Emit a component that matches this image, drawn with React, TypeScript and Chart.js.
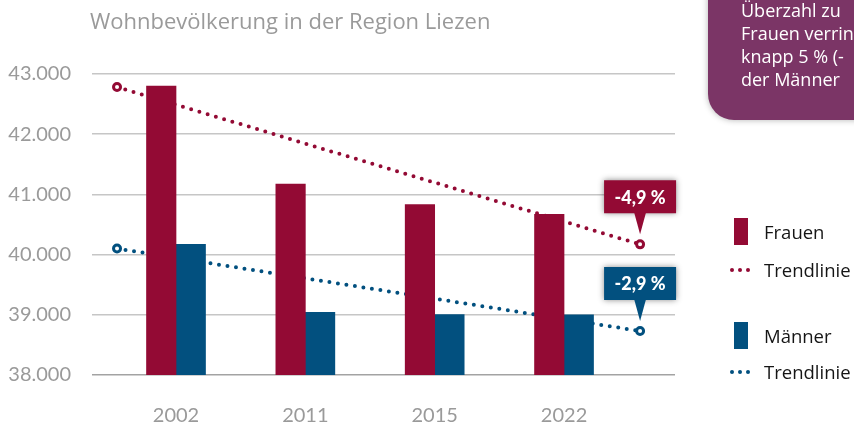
import React, { useEffect, useRef } from "react";
import { Chart, registerables } from "chart.js";

Chart.register(...registerables);

const categories = ["2002", "2011", "2015", "2022"];
const frauen = [42800, 41170, 40830, 40670];
const maenner = [40170, 39040, 39005, 39000];
// trend lines: start/end positions in category-index units, and values
const trendSpan = [-0.456, 3.588];
const trendFrauen = [42785, 40170];
const trendMaenner = [40100, 38730];
const changeLabels = ["-4,9 %", "-2,9 %"];
const infoLines = ["Überzahl zu", "Frauen verrin", "knapp 5 % (-", "der Männer"];
const legendItems = ["Frauen", "Trendlinie", "Männer", "Trendlinie"];

const RED = "#930a34";
const BLUE = "#02507f";
const PURPLE = "#7b3566";
const GRAY = "#9a9a9a";
const FONT = "Lato, 'Open Sans', sans-serif";
const TEXT_FONT = "'Open Sans', Lato, sans-serif";

const fmt = (v: number) => String(v).replace(/\B(?=(\d{3})+(?!\d))/g, ".");

const calloutPlugin = {
  id: "callouts",
  afterDatasetsDraw(chart: any) {
    const { ctx, scales } = chart;
    const xs = scales.x;
    const ys = scales.y;
    const trends = [trendFrauen, trendMaenner];
    const colors = [RED, BLUE];
    trends.forEach((t, i) => {
      const px = xs.getPixelForValue(trendSpan[1]);
      const py = ys.getPixelForValue(t[1]);
      const w = 72;
      const h = 33;
      const bottom = py - 31;
      const tip = py - 10;
      ctx.save();
      ctx.shadowColor = "rgba(0,0,0,0.45)";
      ctx.shadowBlur = 6;
      ctx.fillStyle = colors[i];
      ctx.beginPath();
      ctx.rect(px - w / 2, bottom - h, w, h);
      ctx.fill();
      ctx.shadowColor = "transparent";
      ctx.beginPath();
      ctx.moveTo(px - 6, bottom - 1);
      ctx.lineTo(px + 6, bottom - 1);
      ctx.lineTo(px, tip);
      ctx.closePath();
      ctx.fill();
      ctx.fillStyle = "#ffffff";
      ctx.font = "900 18px " + FONT;
      ctx.textAlign = "center";
      ctx.textBaseline = "middle";
      ctx.fillText(changeLabels[i], px, bottom - h / 2 + 1);
      ctx.restore();
    });
  },
};

export default function App() {
  const ref = useRef<HTMLCanvasElement | null>(null);

  useEffect(() => {
    if (!ref.current) return;
    const trendDs = (vals: number[], color: string, label: string) => ({
      type: "line" as const,
      label,
      data: trendSpan.map((x, i) => ({ x, y: vals[i] })),
      borderColor: color,
      borderWidth: 4,
      borderDash: [0, 8.6],
      borderCapStyle: "round" as const,
      pointRadius: 3.5,
      pointBorderWidth: 3,
      pointBackgroundColor: "#ffffff",
      pointBorderColor: color,
      fill: false,
      order: 2,
    });
    const chart = new Chart(ref.current, {
      type: "bar",
      data: {
        datasets: [
          {
            type: "bar",
            label: "Frauen",
            data: frauen.map((y, i) => ({ x: i, y })),
            backgroundColor: RED,
            barThickness: 29.5,
            order: 1,
          },
          {
            type: "bar",
            label: "Männer",
            data: maenner.map((y, i) => ({ x: i, y })),
            backgroundColor: BLUE,
            barThickness: 29.5,
            order: 1,
          },
          trendDs(trendFrauen, RED, "Trendlinie Frauen") as any,
          trendDs(trendMaenner, BLUE, "Trendlinie Männer") as any,
        ],
      },
      options: {
        responsive: false,
        animation: false,
        layout: { padding: { top: 74, right: 179, left: 0, bottom: 0 } },
        plugins: { legend: { display: false }, tooltip: { enabled: false }, title: { display: false } },
        scales: {
          x: {
            type: "linear",
            min: -0.6495,
            max: 3.858,
            offset: false,
            grid: { display: false },
            border: { display: false },
            afterBuildTicks: (s: any) => {
              s.ticks = categories.map((_, i) => ({ value: i }));
            },
            afterFit: (s: any) => {
              s.height = 50;
            },
            ticks: {
              padding: 21,
              color: GRAY,
              font: { family: FONT, size: 20 },
              callback: (v: any) => categories[Number(v)] ?? "",
              maxRotation: 0,
              autoSkip: false,
            },
          },
          y: {
            min: 38000,
            max: 43000,
            border: { display: false },
            grid: {
              drawTicks: false,
              color: (c: any) => (c.tick && c.tick.value === 38000 ? "#a3a3a3" : "#c6c6c6"),
              lineWidth: 1.5,
            },
            afterFit: (s: any) => {
              s.width = 92;
            },
            ticks: {
              stepSize: 1000,
              padding: 21,
              color: GRAY,
              font: { family: FONT, size: 20 },
              callback: (v: any) => fmt(Number(v)),
            },
          },
        },
      },
      plugins: [calloutPlugin],
    });
    return () => chart.destroy();
  }, []);

  const legendRow = (i: number, top: number) => {
    const isBar = i % 2 === 0;
    const color = i < 2 ? RED : BLUE;
    return (
      <div key={i} style={{ position: "absolute", left: 728, top, height: 28, width: 130 }}>
        {isBar ? (
          <div style={{ position: "absolute", left: 6, top: 0, width: 14, height: 27, background: color }} />
        ) : (
          [0, 1, 2].map((d) => (
            <div
              key={d}
              style={{
                position: "absolute",
                left: 2 + d * 8,
                top: 12,
                width: 4,
                height: 4,
                borderRadius: 2,
                background: color,
              }}
            />
          ))
        )}
        <div
          style={{
            position: "absolute",
            left: 36,
            top: 0,
            lineHeight: "28px",
            fontSize: 18.5,
            fontFamily: TEXT_FONT,
            color: "#151515",
            whiteSpace: "nowrap",
          }}
        >
          {legendItems[i]}
        </div>
      </div>
    );
  };

  return (
    <div style={{ position: "fixed", left: 0, top: 0, width: 854, height: 425, overflow: "hidden", background: "#fff" }}>
      <canvas ref={ref} width={854} height={425} style={{ position: "absolute", left: 0, top: 0 }} />
      <div
        style={{
          position: "absolute",
          left: 90,
          top: 5,
          fontFamily: TEXT_FONT,
          fontSize: 22,
          lineHeight: "30px",
          color: GRAY,
          whiteSpace: "nowrap",
        }}
      >
        Wohnbevölkerung in der Region Liezen
      </div>
      <div
        style={{
          position: "absolute",
          left: 708,
          top: -40,
          width: 200,
          height: 160,
          background: PURPLE,
          borderBottomLeftRadius: 26,
          boxShadow: "0 0 6px rgba(0,0,0,0.3)",
        }}
      >
        <div style={{ position: "absolute", left: 33, top: 39 }}>
          {infoLines.map((t, i) => (
            <div
              key={i}
              style={{ fontFamily: TEXT_FONT, fontSize: 18, lineHeight: "23px", color: "#fff", whiteSpace: "nowrap" }}
            >
              {t}
            </div>
          ))}
        </div>
      </div>
      {legendRow(0, 218)}
      {legendRow(1, 256)}
      {legendRow(2, 322)}
      {legendRow(3, 358)}
    </div>
  );
}
